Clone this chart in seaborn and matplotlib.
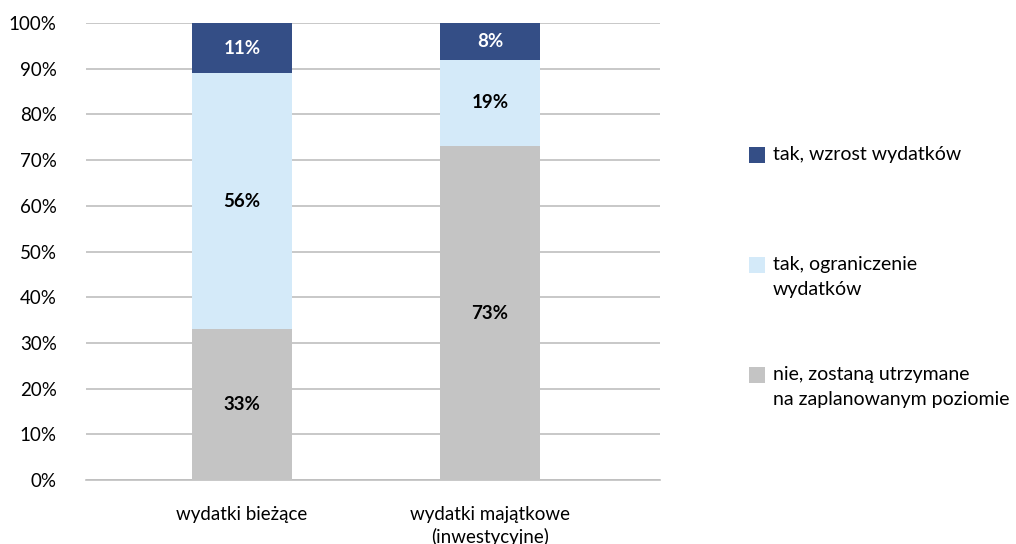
import numpy as np
import pandas as pd
import seaborn as sns
import matplotlib.pyplot as plt
from matplotlib.patches import Rectangle

# Data
categories = ['wydatki bieżące', 'wydatki majątkowe\n(inwestycyjne)']
nie_utrzymane = [33, 73]
tak_ograniczenie = [56, 19]
tak_wzrost = [11, 8]

series_labels = ['tak, wzrost wydatków',
                 'tak, ograniczenie\nwydatków',
                 'nie, zostaną utrzymane\nna zaplanowanym poziomie']
colors = ['#344E86', '#D4EAF9', '#C4C4C4']


def main():
    sns.set_theme(style="white")
    plt.rcParams['font.family'] = ['Lato', 'DejaVu Sans']

    df = pd.DataFrame({
        'cat': categories,
        'nie': nie_utrzymane,
        'ogr': tak_ograniczenie,
        'wzr': tak_wzrost,
    })
    df['c1'] = df['nie']
    df['c2'] = df['nie'] + df['ogr']
    df['c3'] = df['c2'] + df['wzr']

    fig = plt.figure(figsize=(10.16, 5.44), dpi=100)
    ax = fig.add_axes([0.0846, 0.1176, 0.565, 0.8401])

    # stacked bars: draw cumulative totals from the top down
    for col, color in zip(['c3', 'c2', 'c1'], colors):
        sns.barplot(data=df, x='cat', y=col, color=color, width=0.4,
                    saturation=1, ax=ax, zorder=3, edgecolor='none')

    # segment labels
    for i in range(len(df)):
        segs = [(0, df['nie'][i], '#000000'),
                (df['c1'][i], df['ogr'][i], '#000000'),
                (df['c2'][i], df['wzr'][i], '#FFFFFF')]
        for bottom, val, tc in segs:
            ax.text(i, bottom + val / 2, f'{val}%', ha='center', va='center',
                    fontsize=13.5, fontweight='bold', color=tc, zorder=4)

    ax.set_ylim(0, 100)
    ax.set_xlim(-0.629, 1.685)
    ax.set_yticks(np.arange(0, 101, 10))
    ax.set_yticklabels([f'{v}%' for v in range(0, 101, 10)])
    ax.yaxis.grid(True, color='#BFBFBF', linewidth=1.2, zorder=0)
    ax.set_axisbelow(True)
    for s in ['top', 'right', 'left']:
        ax.spines[s].set_visible(False)
    ax.spines['bottom'].set_color('#BFBFBF')
    ax.spines['bottom'].set_linewidth(1.2)
    ax.tick_params(axis='both', length=0, labelsize=13.5, colors='#000000')
    ax.tick_params(axis='y', pad=21)
    ax.tick_params(axis='x', pad=19)
    for lbl in ax.get_xticklabels():
        lbl.set_va('top')
        lbl.set_linespacing(1.3)
    ax.set_xlabel('')
    ax.set_ylabel('')

    # legend drawn on figure
    ys = [155, 265, 375]
    for y, lab, color in zip(ys, series_labels, colors):
        fig.patches.append(Rectangle((749 / 1016, 1 - (y + 8) / 544), 16 / 1016, 16 / 544,
                                     transform=fig.transFigure, facecolor=color,
                                     edgecolor='none'))
        fig.text(773 / 1016, 1 - (y - 9) / 544, lab, ha='left', va='top',
                 fontsize=14, color='#000000', linespacing=1.55)

    plt.savefig('out.png', dpi=100)


if __name__ == "__main__":
    main()
